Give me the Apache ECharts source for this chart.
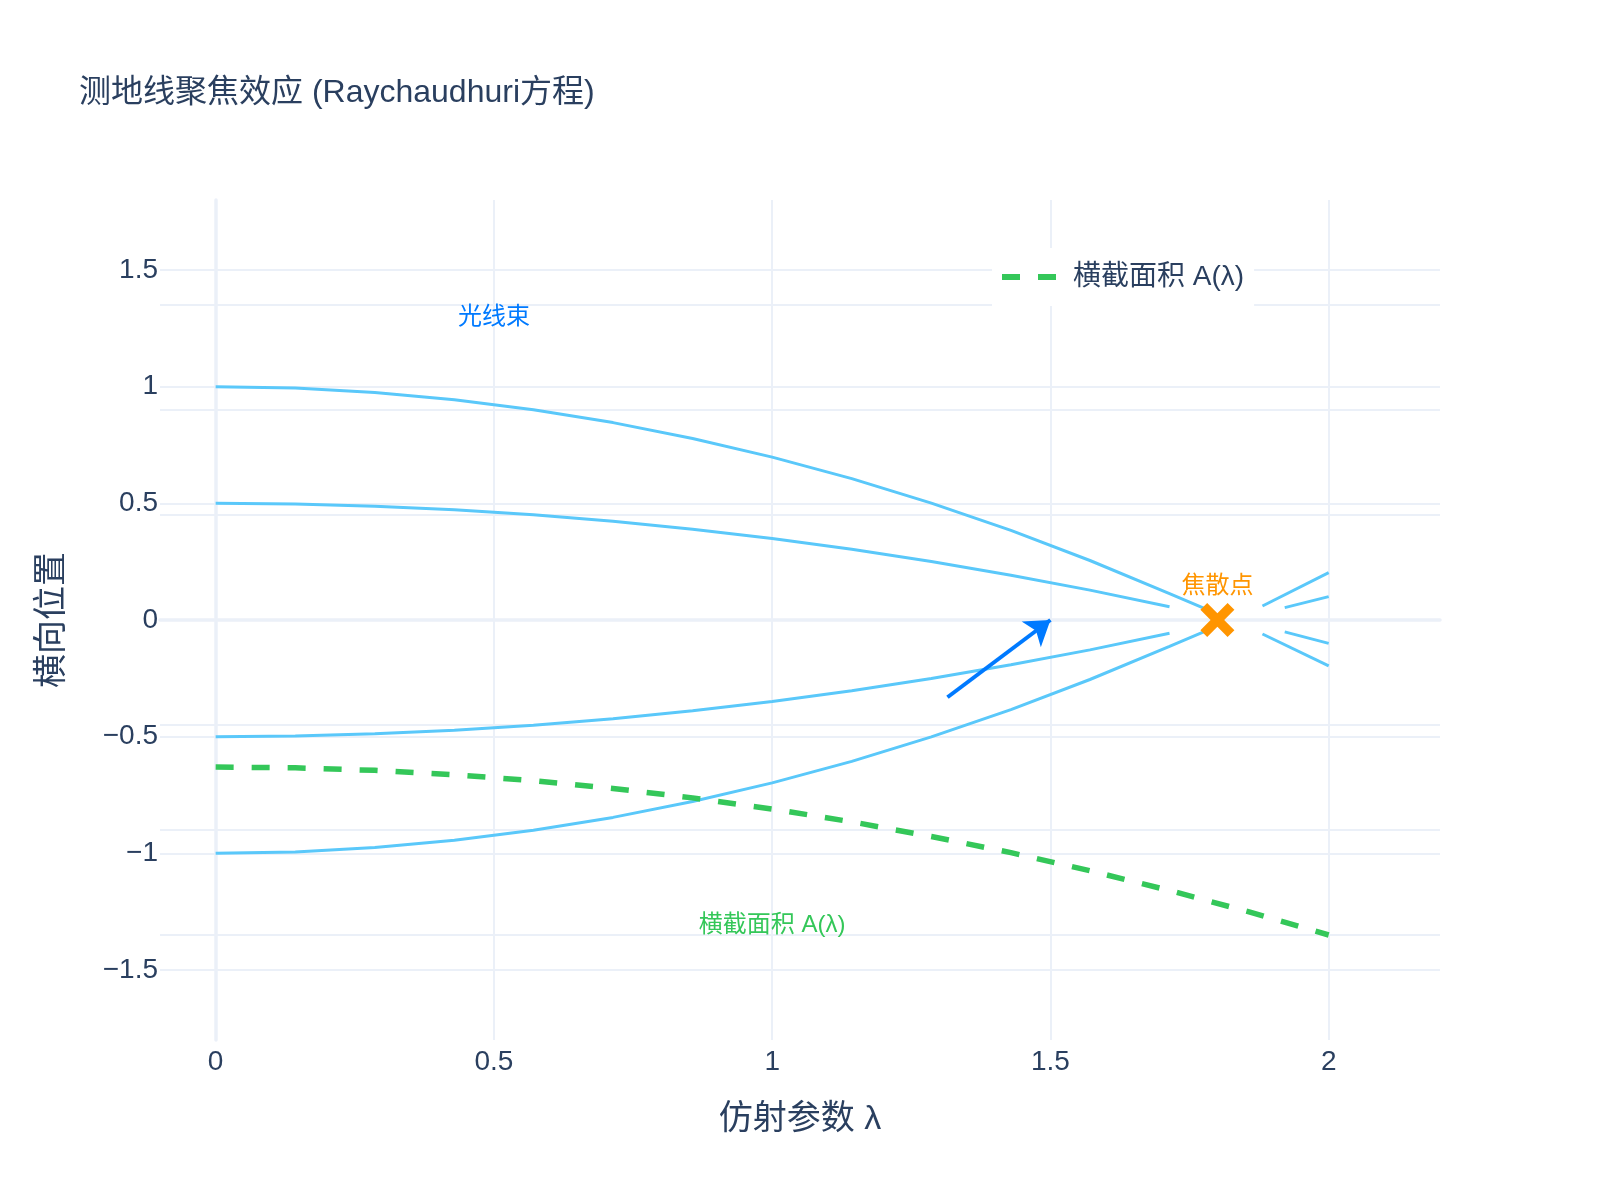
<!DOCTYPE html>
<html><head><meta charset="utf-8">
<script src="https://cdn.jsdelivr.net/npm/echarts@6/dist/echarts.min.js"></script>
<style>html,body{margin:0;padding:0;background:#fff}#c{width:1600px;height:1200px}</style>
</head><body><div id="c"></div>
<script>
// ---- data ----
const lambdaPre = [0, 0.143, 0.286, 0.429, 0.571, 0.714, 0.857, 1.0, 1.143, 1.286, 1.429, 1.571, 1.714];
const outerX = [0, 0.143, 0.286, 0.429, 0.571, 0.714, 0.857, 1.0, 1.143, 1.286, 1.429, 1.571, 1.714, 1.786];
const outerUpper = [1.000, 0.994, 0.975, 0.944, 0.901, 0.846, 0.778, 0.698, 0.606, 0.501, 0.384, 0.255, 0.113, 0.040];
const outerLower = [-1.000, -0.994, -0.975, -0.944, -0.901, -0.846, -0.778, -0.698, -0.606, -0.501, -0.384, -0.255, -0.113, -0.040];
const innerUpper = [0.500, 0.497, 0.488, 0.472, 0.451, 0.423, 0.389, 0.349, 0.303, 0.251, 0.192, 0.128, 0.057];
const innerLower = [-0.500, -0.497, -0.488, -0.472, -0.451, -0.423, -0.389, -0.349, -0.303, -0.251, -0.192, -0.128, -0.057];
const postOuterX = [1.881, 2.0];
const postOuterUp = [0.06, 0.203];
const postOuterDown = [-0.06, -0.197];
const postInnerX = [1.921, 2.0];
const postInnerUp = [0.053, 0.10];
const postInnerDown = [-0.051, -0.10];
const areaX = [0, 0.143, 0.286, 0.429, 0.571, 0.714, 0.857, 1.0, 1.143, 1.286, 1.429, 1.571, 1.714, 1.857, 2.0];
const areaY = [-0.700, -0.704, -0.716, -0.737, -0.765, -0.802, -0.847, -0.900, -0.961, -1.031, -1.108, -1.194, -1.288, -1.390, -1.500];
const focusPoint = [1.8, 0];
const arrowFrom = [1.315, -0.331];
const arrowTo = [1.5, 0];
const annoText = ['光线束', '焦散点', '横截面积 A(λ)'];
const annoX = [0.5, 1.8, 1.0];
const annoY = [1.297, 0.142, -1.309];
const xTicks = [0, 0.5, 1, 1.5, 2];
const yTicks = [-1.5, -1, -0.5, 0, 0.5, 1, 1.5];
const y2Ticks = [-1.5, -1, -0.5, 0, 0.5, 1, 1.5];
const areaName = '横截面积 A(λ)';

// ---- build ----
const FONT = '"Liberation Sans", Arial, "Noto Sans CJK SC", sans-serif';
const TXT = '#2a3f5f';
const GRID = '#EBF0F8';
const zip = (xs, ys) => xs.map((x, i) => [x, ys[i]]);
const fmt = v => (v < 0 ? '\u2212' : '') + String(Math.abs(v));
const annoColors = ['#007AFF', '#FF9500', '#34C759'];
const ray = (xs, ys) => ({
  type: 'line', data: zip(xs, ys), symbol: 'none', smooth: false, silent: true,
  lineStyle: { color: '#5AC8FA', width: 3 }, z: 3
});

const chart = echarts.init(document.getElementById('c'), null, { renderer: 'canvas' });
chart.setOption({
  animation: false,
  backgroundColor: '#fff',
  textStyle: { fontFamily: FONT },
  title: {
    text: '测地线聚焦效应 (Raychaudhuri方程)', left: 74, top: 72,
    textStyle: { fontSize: 32, fontWeight: 'normal', color: TXT, fontFamily: FONT }
  },
  legend: {
    data: [{ name: areaName, icon: 'path://M0,0 H18 V6 H0 Z M36,0 H54 V6 H36 Z' }],
    left: 992, top: 248, backgroundColor: '#fff',
    padding: [15, 10, 15, 10], itemWidth: 54, itemHeight: 6,
    itemStyle: { color: '#34C759' },
    textStyle: { fontSize: 28, color: TXT, fontFamily: FONT, padding: [0, 0, 0, 12] }
  },
  grid: { left: 160, right: 160, top: 200, bottom: 160, containLabel: false },
  xAxis: {
    type: 'value', min: -0.1, max: 2.2, interval: 0.5,
    name: '仿射参数 λ', nameLocation: 'middle', nameGap: 63,
    nameTextStyle: { fontSize: 34, color: TXT, fontFamily: FONT },
    axisLine: { show: true, onZero: true, lineStyle: { color: GRID, width: 3.5 } },
    axisTick: { show: false, customValues: xTicks },
    axisLabel: { customValues: xTicks, formatter: fmt, fontSize: 28, color: TXT, margin: 8, fontFamily: FONT },
    splitLine: { show: true, lineStyle: { color: GRID, width: 2 } }
  },
  yAxis: [{
    type: 'value', min: -1.8, max: 1.8, interval: 0.5,
    name: '横向位置', nameLocation: 'middle', nameGap: 90, nameRotate: 90,
    nameTextStyle: { fontSize: 34, color: TXT, fontFamily: FONT },
    axisLine: { show: true, onZero: true, lineStyle: { color: GRID, width: 3.5 } },
    axisTick: { show: false, customValues: yTicks },
    axisLabel: { customValues: yTicks, formatter: fmt, fontSize: 28, color: TXT, margin: 2, padding: [4, 0, 0, 0], fontFamily: FONT },
    splitLine: { show: true, lineStyle: { color: GRID, width: 2 } }
  }, {
    type: 'value', min: -2, max: 2, interval: 0.5, position: 'right',
    axisLine: { show: false }, axisTick: { show: false, customValues: y2Ticks },
    axisLabel: { show: false, customValues: y2Ticks },
    splitLine: { show: true, lineStyle: { color: GRID, width: 2 } }
  }],
  series: [
    ray(outerX, outerUpper), ray(lambdaPre, innerUpper), ray(lambdaPre, innerLower), ray(outerX, outerLower),
    ray(postOuterX, postOuterUp), ray(postInnerX, postInnerUp), ray(postInnerX, postInnerDown), ray(postOuterX, postOuterDown),
    {
      name: areaName, type: 'line', yAxisIndex: 1, data: zip(areaX, areaY), symbol: 'none', smooth: false,
      lineStyle: { color: '#34C759', width: 5.5, type: [18, 18] }, itemStyle: { color: '#34C759' }, z: 4
    },
    {
      type: 'scatter', data: [focusPoint], symbolSize: 34,
      symbol: 'path://M2,0 L5,3 L8,0 L10,2 L7,5 L10,8 L8,10 L5,7 L2,10 L0,8 L3,5 L0,2 Z',
      itemStyle: { color: '#FF9500', opacity: 1 }, z: 6, silent: true
    },
    {
      type: 'scatter', silent: true, z: 7,
      data: annoText.map((t, i) => ({
        value: [annoX[i], annoY[i]], name: t,
        label: { show: true, position: 'inside', formatter: t, color: annoColors[i], fontSize: 24, fontFamily: FONT }
      })),
      symbolSize: 1, itemStyle: { color: 'transparent', opacity: 1 },
      markLine: {
        silent: true, symbol: ['none', 'arrow'], symbolSize: 24,
        lineStyle: { color: '#007AFF', width: 4, type: 'solid', opacity: 1 }, label: { show: false },
        data: [[{ coord: arrowFrom }, { coord: arrowTo }]]
      }
    }
  ]
});
</script></body></html>
